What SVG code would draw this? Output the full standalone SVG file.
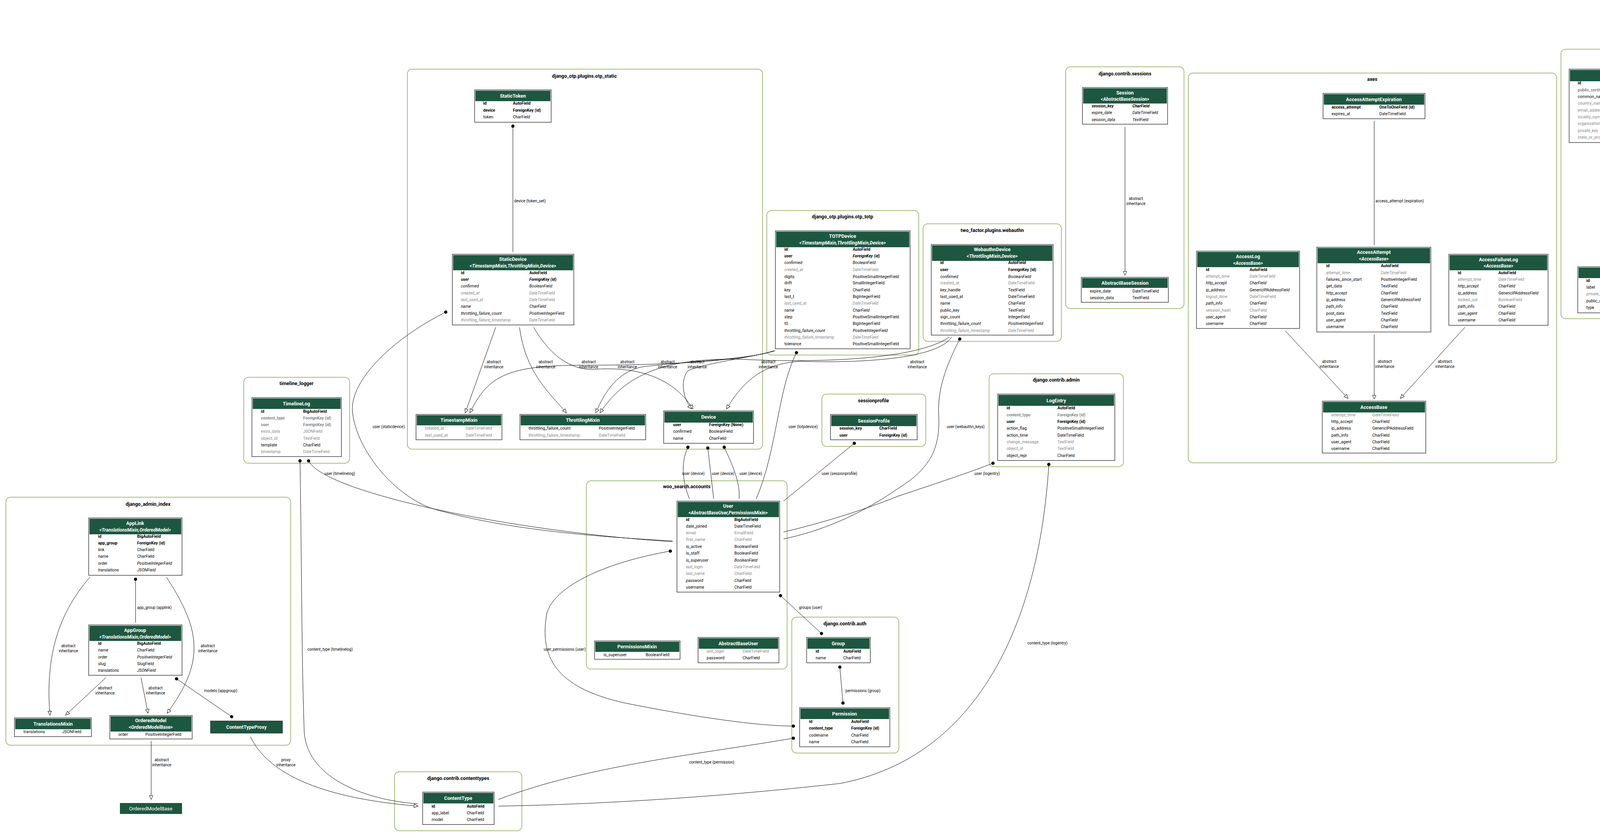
<svg xmlns="http://www.w3.org/2000/svg" width="7077" height="2143" viewBox="0 0 7077 2143">
<style>
text{font-family:Roboto,"Liberation Sans",sans-serif;font-size:10.5px;fill:#000}
.n{}
.b{font-weight:bold}
.i{font-style:italic}
.g{fill:#888}
.gi{fill:#888;font-style:italic}
.gb{fill:#888;font-weight:bold}
.bi{font-weight:bold;font-style:italic}
.t{font-size:12.5px;font-weight:bold;fill:#fff;text-anchor:middle}
.st{font-size:12px;font-weight:bold;font-style:italic;fill:#fff;text-anchor:middle}
.tn{font-size:13px;fill:#fff;text-anchor:middle}
.cl{font-size:12.5px;font-weight:bold;text-anchor:middle}
.lb{font-size:10px;text-anchor:middle}
.ls{font-size:10px}
.le{font-size:10px;text-anchor:end}
.box{fill:#fff;stroke:#222;stroke-width:1.3}
.hd{fill:#1d5740}
.clu{fill:none;stroke:#8ca953;stroke-width:1.5}
.e{fill:none;stroke:#000;stroke-width:1}
.inh{marker-end:url(#tri)}
.ds{marker-start:url(#dot)}
.dd{marker-start:url(#dot);marker-end:url(#dot)}
</style>
<defs>
<marker id="tri" viewBox="0 0 12 10" refX="11" refY="5" markerWidth="12" markerHeight="10" markerUnits="userSpaceOnUse" orient="auto"><path d="M1,0.5 L11,5 L1,9.5 Z" fill="#fff" stroke="#000" stroke-width="1"/></marker>
<marker id="dot" viewBox="0 0 10 10" refX="5" refY="5" markerWidth="9" markerHeight="9" markerUnits="userSpaceOnUse" orient="auto"><circle cx="5" cy="5" r="4.5" fill="#000"/></marker>
</defs>
<rect width="7077" height="2143" fill="#fff"/>

<g id="clusters">
<rect class="clu" x="15" y="1273" width="729" height="635" rx="12"/><text class="cl" x="379" y="1295">django_admin_index</text>
<rect class="clu" x="1010" y="1976" width="326" height="151" rx="12"/><text class="cl" x="1173" y="1997">django.contrib.contenttypes</text>
<rect class="clu" x="624" y="966" width="271" height="220" rx="12"/><text class="cl" x="759" y="986">timeline_logger</text>
<rect class="clu" x="1043" y="177" width="909" height="973" rx="12"/><text class="cl" x="1496" y="199">django_otp.plugins.otp_static</text>
<rect class="clu" x="1963" y="539" width="389" height="370" rx="12"/><text class="cl" x="2157" y="559">django_otp.plugins.otp_totp</text>
<rect class="clu" x="2363" y="573" width="354" height="301" rx="12"/><text class="cl" x="2540" y="594">two_factor.plugins.webauthn</text>
<rect class="clu" x="2728" y="171" width="303" height="619" rx="12"/><text class="cl" x="2880" y="193">django.contrib.sessions</text>
<rect class="clu" x="2104" y="1009" width="266" height="134" rx="12"/><text class="cl" x="2236" y="1030">sessionprofile</text>
<rect class="clu" x="2532" y="957" width="344" height="238" rx="12"/><text class="cl" x="2704" y="977">django.contrib.admin</text>
<rect class="clu" x="1501" y="1231" width="514" height="482" rx="12"/><text class="cl" x="1758" y="1250">woo_search.accounts</text>
<rect class="clu" x="2027" y="1580" width="274" height="348" rx="12"/><text class="cl" x="2163" y="1601">django.contrib.auth</text>
<rect class="clu" x="3042" y="187" width="943" height="998" rx="12"/><text class="cl" x="3513" y="207">axes</text>
<rect class="clu" x="3996" y="126" width="344" height="690" rx="12"/><text class="cl" x="4168" y="147">simple_certmanager</text>
<rect class="clu" x="4351" y="16" width="883" height="766" rx="12"/><text class="cl" x="4792" y="36">zgw_consumers</text>
<rect class="clu" x="5245" y="57" width="653" height="392" rx="12"/><text class="cl" x="5571" y="77">log_outgoing_requests</text>
<rect class="clu" x="5909" y="91" width="575" height="785" rx="12"/><text class="cl" x="6196" y="112">mozilla_django_oidc_db</text>
<rect class="clu" x="6496" y="161" width="276" height="184" rx="12"/><text class="cl" x="6635" y="181">upgrade_check</text>
<rect class="clu" x="6785" y="135" width="276" height="237" rx="12"/><text class="cl" x="6922" y="155">woo_search.api</text>
</g>

<g id="connectors">
<path class="e ds" d="M347,1483 L347,1594"/><text class="ls" x="351" y="1559">app_group (applink)</text>
<path class="e inh" d="M230,1478 C150,1570 115,1680 128,1831"/><text class="lb" x="175" y="1657">abstract</text><text class="lb" x="175" y="1670">inheritance</text>
<path class="e inh" d="M426,1478 C520,1620 520,1700 428,1826"/><text class="lb" x="532" y="1657">abstract</text><text class="lb" x="532" y="1670">inheritance</text>
<path class="e inh" d="M271,1735 L168,1831"/><text class="lb" x="269" y="1765">abstract</text><text class="lb" x="269" y="1778">inheritance</text>
<path class="e inh" d="M361,1735 L379,1826"/><text class="lb" x="398" y="1765">abstract</text><text class="lb" x="398" y="1778">inheritance</text>
<path class="e dd" d="M452,1738 L593,1835"/><text class="lb" x="565" y="1772">models (appgroup)</text>
<path class="e inh" d="M387,1897 L387,2047"/><text class="lb" x="414" y="1949">abstract</text><text class="lb" x="414" y="1962">inheritance</text>
<path class="e inh" d="M641,1886 C700,2010 900,2050 1070,2064"/><text class="lb" x="732" y="1949">proxy</text><text class="lb" x="732" y="1962">inheritance</text>
<path class="e ds" d="M768,1180 C772,1400 772,1700 779,1877 C790,2000 950,2050 1070,2058"/><text class="lb" x="845" y="1666">content_type (timelinelog)</text>
<path class="e ds" d="M790,1180 C830,1260 1300,1360 1722,1387"/><text class="lb" x="870" y="1216">user (timelinelog)</text>
<path class="e ds" d="M1313,323 L1313,645"/><text class="ls" x="1316" y="518">device (token_set)</text>
<path class="e ds" d="M1141,799 C1000,870 890,980 903,1060 C915,1150 1000,1260 1100,1300 C1300,1360 1550,1375 1722,1385"/><text class="lb" x="995" y="1096">user (staticdevice)</text>
<path class="e inh" d="M1269,838 L1191,1057"/>
<path class="e inh" d="M1330,838 C1345,950 1400,1000 1450,1057"/>
<path class="e inh" d="M1366,838 C1420,930 1480,950 1530,945 C1620,940 1720,960 1774,1047"/>
<path class="e inh" d="M1981,898 C1900,925 1700,935 1500,935 C1300,935 1250,960 1203,1057"/>
<path class="e inh" d="M1981,898 C1930,920 1700,930 1640,940 C1580,955 1550,1000 1525,1057"/>
<path class="e inh" d="M1985,898 C1900,920 1800,930 1760,950 C1740,980 1750,1020 1770,1047"/>
<path class="e inh" d="M2430,863 C2350,920 2100,930 1900,920 C1700,915 1600,960 1536,1057"/>
<path class="e inh" d="M2436,863 C2400,920 2200,930 2050,925 C1950,930 1900,980 1860,1047"/>
<text class="lb" x="1264" y="930">abstract</text><text class="lb" x="1264" y="943">inheritance</text>
<text class="lb" x="1397" y="930">abstract</text><text class="lb" x="1397" y="943">inheritance</text>
<text class="lb" x="1507" y="930">abstract</text><text class="lb" x="1507" y="943">inheritance</text>
<text class="lb" x="1606" y="930">abstract</text><text class="lb" x="1606" y="943">inheritance</text>
<text class="lb" x="1709" y="930">abstract</text><text class="lb" x="1709" y="943">inheritance</text>
<text class="lb" x="1785" y="930">abstract</text><text class="lb" x="1785" y="943">inheritance</text>
<text class="lb" x="1967" y="930">abstract</text><text class="lb" x="1967" y="943">inheritance</text>
<text class="lb" x="2348" y="930">abstract</text><text class="lb" x="2348" y="943">inheritance</text>
<path class="e ds" d="M1761,1145 C1740,1190 1750,1240 1765,1277"/><text class="lb" x="1775" y="1216">user (device)</text>
<path class="e ds" d="M1812,1147 L1827,1277"/><text class="lb" x="1851" y="1216">user (device)</text>
<path class="e ds" d="M1854,1145 C1880,1200 1895,1240 1892,1277"/><text class="lb" x="1922" y="1216">user (device)</text>
<path class="e ds" d="M2039,903 C1990,1000 1990,1150 1936,1277"/><text class="lb" x="2056" y="1096">user (totpdevice)</text>
<path class="e ds" d="M2457,868 C2420,940 2400,1000 2403,1060 C2408,1150 2380,1200 2300,1250 C2200,1320 2100,1360 2006,1380"/><text class="lb" x="2472" y="1096">user (webauthn_keys)</text>
<path class="e ds" d="M2542,1186 C2480,1210 2420,1230 2300,1270 C2200,1310 2100,1340 2006,1362"/><text class="lb" x="2527" y="1216">user (logentry)</text>
<path class="e ds" d="M2187,1135 L2006,1283"/><text class="lb" x="2149" y="1216">user (sessionprofile)</text>
<path class="e dd" d="M1998,1525 L2103,1622"/><text class="lb" x="2075" y="1559">groups (user)</text>
<path class="e dd" d="M2150,1708 L2158,1800"/><text class="lb" x="2209" y="1772">permissions (group)</text>
<path class="e dd" d="M1716,1411 C1550,1440 1420,1500 1400,1570 C1380,1680 1420,1760 1600,1800 C1800,1840 1950,1859 2031,1859"/><text class="le" x="1499" y="1666">user_permissions (user)</text>
<path class="e ds" d="M2031,1890 C1800,1930 1500,1960 1276,2047"/><text class="lb" x="1822" y="1955">content_type (permission)</text>
<path class="e ds" d="M2685,1189 C2660,1600 2500,1940 2150,2006 C1800,2045 1500,2060 1276,2064"/><text class="ls" x="2630" y="1650">content_type (logentry)</text>
<path class="e inh" d="M2880,325 L2880,705"/><text class="lb" x="2908" y="512">abstract</text><text class="lb" x="2908" y="525">inheritance</text>
<path class="e" d="M3518,310 L3518,628"/><text class="ls" x="3521" y="518">access_attempt (expiration)</text>
<path class="e inh" d="M3290,847 L3451,1020"/><text class="lb" x="3403" y="929">abstract</text><text class="lb" x="3403" y="942">inheritance</text>
<path class="e inh" d="M3518,856 L3518,1022"/><text class="lb" x="3545" y="929">abstract</text><text class="lb" x="3545" y="942">inheritance</text>
<path class="e inh" d="M3750,838 L3585,1020"/><text class="lb" x="3699" y="929">abstract</text><text class="lb" x="3699" y="942">inheritance</text>
<path class="e ds" d="M4167,371 L4175,677"/><text class="ls" x="4171" y="518">public_certificate (signing_request)</text>
<path class="e inh" d="M4432,296 C4380,450 4300,560 4235,677"/><text class="lb" x="4368" y="512">proxy</text><text class="lb" x="4368" y="525">inheritance</text>
<path class="e ds" d="M4539,474 C4500,500 4460,490 4440,505 C4390,535 4380,535 4350,535 C4280,560 4240,620 4212,677"/><text class="lb" x="4530" y="518">client_certificate (service_client)</text>
<path class="e ds" d="M4645,485 C4630,520 4620,535 4580,535 C4450,538 4370,530 4340,540 C4290,570 4240,620 4215,677"/><text class="lb" x="4717" y="518">server_certificate (service_server)</text>
<path class="e inh" d="M4809,480 C4830,560 4840,620 4841,712"/><text class="lb" x="4846" y="512">abstract</text><text class="lb" x="4846" y="525">inheritance</text>
<path class="e inh" d="M5085,342 L5113,719"/><text class="lb" x="5127" y="512">abstract</text><text class="lb" x="5127" y="525">inheritance</text>
<path class="e inh" d="M5366,342 L5136,719"/><text class="lb" x="5291" y="512">abstract</text><text class="lb" x="5291" y="525">inheritance</text>
<path class="e ds" d="M6080,411 L6092,617"/><text class="ls" x="6083" y="518">oidc_provider (oidcclient)</text>
</g>

<g id="AppLink"><rect class="box" x="227" y="1326" width="239" height="147"/><rect class="hd" x="229" y="1328" width="235" height="40"/><text class="t" x="346" y="1344">AppLink</text><text class="st" x="346" y="1361">&lt;TranslationsMixin,OrderedModel&gt;</text>
<text class="b" y="1377"><tspan x="251">id</tspan><tspan x="351">BigAutoField</tspan></text>
<text class="b" y="1394"><tspan x="251">app_group</tspan><tspan x="351">ForeignKey (id)</tspan></text>
<text y="1411"><tspan x="251">link</tspan><tspan x="351">CharField</tspan></text>
<text y="1428"><tspan x="251">name</tspan><tspan x="351">CharField</tspan></text>
<text class="i" y="1446"><tspan x="251">order</tspan><tspan x="351">PositiveIntegerField</tspan></text>
<text class="i" y="1463"><tspan x="251">translations</tspan><tspan x="351">JSONField</tspan></text></g>

<g id="AppGroup"><rect class="box" x="227" y="1600" width="239" height="129"/><rect class="hd" x="229" y="1602" width="235" height="39"/><text class="t" x="346" y="1618">AppGroup</text><text class="st" x="346" y="1635">&lt;TranslationsMixin,OrderedModel&gt;</text>
<text class="b" y="1651"><tspan x="251">id</tspan><tspan x="351">BigAutoField</tspan></text>
<text y="1668"><tspan x="251">name</tspan><tspan x="351">CharField</tspan></text>
<text class="i" y="1686"><tspan x="251">order</tspan><tspan x="351">PositiveIntegerField</tspan></text>
<text y="1703"><tspan x="251">slug</tspan><tspan x="351">SlugField</tspan></text>
<text class="i" y="1720"><tspan x="251">translations</tspan><tspan x="351">JSONField</tspan></text></g>

<g id="TranslationsMixin"><rect class="box" x="37" y="1838" width="197" height="48"/><rect class="hd" x="39" y="1840" width="193" height="27"/><text class="t" x="136" y="1858">TranslationsMixin</text>
<text y="1877"><tspan x="60">translations</tspan><tspan x="159">JSONField</tspan></text></g>

<g id="OrderedModel"><rect class="box" x="281" y="1832" width="211" height="60"/><rect class="hd" x="283" y="1834" width="207" height="39"/><text class="t" x="386" y="1849">OrderedModel</text><text class="st" x="386" y="1866">&lt;OrderedModelBase&gt;</text>
<text y="1884"><tspan x="303">order</tspan><tspan x="372">PositiveIntegerField</tspan></text></g>

<g id="ContentTypeProxy"><rect class="hd" x="539" y="1846" width="184" height="31" stroke="#222" stroke-width="1.3"/><text class="t" x="631" y="1866">ContentTypeProxy</text></g>
<g id="OrderedModelBase"><rect class="hd" x="307" y="2056" width="159" height="28"/><text class="tn" x="386" y="2075">OrderedModelBase</text></g>

<g id="ContentType"><rect class="box" x="1082" y="2028" width="183" height="83"/><rect class="hd" x="1084" y="2030" width="179" height="27"/><text class="t" x="1173" y="2048">ContentType</text>
<text class="b" y="2068"><tspan x="1105">id</tspan><tspan x="1195">AutoField</tspan></text>
<text y="2085"><tspan x="1105">app_label</tspan><tspan x="1195">CharField</tspan></text>
<text y="2102"><tspan x="1105">model</tspan><tspan x="1195">CharField</tspan></text></g>

<g id="TimelineLog"><rect class="box" x="645" y="1018" width="229" height="151"/><rect class="hd" x="647" y="1020" width="225" height="27"/><text class="t" x="759" y="1038">TimelineLog</text>
<text class="b" y="1057"><tspan x="668">id</tspan><tspan x="776">BigAutoField</tspan></text>
<text class="gb" y="1074"><tspan x="668">content_type</tspan><tspan x="776">ForeignKey (id)</tspan></text>
<text class="gb" y="1091"><tspan x="668">user</tspan><tspan x="776">ForeignKey (id)</tspan></text>
<text class="g" y="1108"><tspan x="668">extra_data</tspan><tspan x="776">JSONField</tspan></text>
<text class="g" y="1126"><tspan x="668">object_id</tspan><tspan x="776">TextField</tspan></text>
<text y="1143"><tspan x="668">template</tspan><tspan x="776">CharField</tspan></text>
<text class="g" y="1160"><tspan x="668">timestamp</tspan><tspan x="776">DateTimeField</tspan></text></g>

<g id="StaticToken"><rect class="box" x="1215" y="230" width="196" height="83"/><rect class="hd" x="1217" y="232" width="192" height="27"/><text class="t" x="1313" y="250">StaticToken</text>
<text class="b" y="268"><tspan x="1237">id</tspan><tspan x="1313">AutoField</tspan></text>
<text class="b" y="286"><tspan x="1237">device</tspan><tspan x="1313">ForeignKey (id)</tspan></text>
<text y="303"><tspan x="1237">token</tspan><tspan x="1313">CharField</tspan></text></g>

<g id="StaticDevice"><rect class="box" x="1158" y="651" width="311" height="181"/><rect class="hd" x="1160" y="653" width="307" height="39"/><text class="t" x="1313" y="668">StaticDevice</text><text class="st" x="1313" y="685">&lt;TimestampMixin,ThrottlingMixin,Device&gt;</text>
<text class="b" y="702"><tspan x="1180">id</tspan><tspan x="1355">AutoField</tspan></text>
<text class="bi" y="719"><tspan x="1180">user</tspan><tspan x="1355">ForeignKey (id)</tspan></text>
<text class="i" y="736"><tspan x="1180">confirmed</tspan><tspan x="1355">BooleanField</tspan></text>
<text class="gi" y="754"><tspan x="1180">created_at</tspan><tspan x="1355">DateTimeField</tspan></text>
<text class="gi" y="771"><tspan x="1180">last_used_at</tspan><tspan x="1355">DateTimeField</tspan></text>
<text class="i" y="788"><tspan x="1180">name</tspan><tspan x="1355">CharField</tspan></text>
<text class="i" y="806"><tspan x="1180">throttling_failure_count</tspan><tspan x="1355">PositiveIntegerField</tspan></text>
<text class="gi" y="823"><tspan x="1180">throttling_failure_timestamp</tspan><tspan x="1355">DateTimeField</tspan></text></g>

<g id="TimestampMixin"><rect class="box" x="1065" y="1061" width="220" height="65"/><rect class="hd" x="1067" y="1063" width="216" height="26"/><text class="t" x="1175" y="1080">TimestampMixin</text>
<text class="g" y="1100"><tspan x="1088">created_at</tspan><tspan x="1192">DateTimeField</tspan></text>
<text class="g" y="1118"><tspan x="1088">last_used_at</tspan><tspan x="1192">DateTimeField</tspan></text></g>

<g id="ThrottlingMixin"><rect class="box" x="1331" y="1061" width="322" height="65"/><rect class="hd" x="1333" y="1063" width="318" height="26"/><text class="t" x="1492" y="1080">ThrottlingMixin</text>
<text y="1100"><tspan x="1353">throttling_failure_count</tspan><tspan x="1533">PositiveIntegerField</tspan></text>
<text class="g" y="1118"><tspan x="1353">throttling_failure_timestamp</tspan><tspan x="1533">DateTimeField</tspan></text></g>

<g id="Device"><rect class="box" x="1699" y="1052" width="230" height="83"/><rect class="hd" x="1701" y="1054" width="226" height="28"/><text class="t" x="1814" y="1072">Device</text>
<text class="b" y="1091"><tspan x="1723">user</tspan><tspan x="1815">ForeignKey (None)</tspan></text>
<text y="1108"><tspan x="1723">confirmed</tspan><tspan x="1815">BooleanField</tspan></text>
<text y="1126"><tspan x="1723">name</tspan><tspan x="1815">CharField</tspan></text></g>

<g id="TOTPDevice"><rect class="box" x="1985" y="591" width="345" height="302"/><rect class="hd" x="1987" y="593" width="341" height="40"/><text class="t" x="2157" y="609">TOTPDevice</text><text class="st" x="2157" y="626">&lt;TimestampMixin,ThrottlingMixin,Device&gt;</text>
<text class="b" y="642"><tspan x="2008">id</tspan><tspan x="2183">AutoField</tspan></text>
<text class="bi" y="659"><tspan x="2008">user</tspan><tspan x="2183">ForeignKey (id)</tspan></text>
<text class="i" y="676"><tspan x="2008">confirmed</tspan><tspan x="2183">BooleanField</tspan></text>
<text class="gi" y="694"><tspan x="2008">created_at</tspan><tspan x="2183">DateTimeField</tspan></text>
<text y="712"><tspan x="2008">digits</tspan><tspan x="2183">PositiveSmallIntegerField</tspan></text>
<text y="728"><tspan x="2008">drift</tspan><tspan x="2183">SmallIntegerField</tspan></text>
<text y="746"><tspan x="2008">key</tspan><tspan x="2183">CharField</tspan></text>
<text y="763"><tspan x="2008">last_t</tspan><tspan x="2183">BigIntegerField</tspan></text>
<text class="gi" y="780"><tspan x="2008">last_used_at</tspan><tspan x="2183">DateTimeField</tspan></text>
<text class="i" y="798"><tspan x="2008">name</tspan><tspan x="2183">CharField</tspan></text>
<text y="815"><tspan x="2008">step</tspan><tspan x="2183">PositiveSmallIntegerField</tspan></text>
<text y="832"><tspan x="2008">t0</tspan><tspan x="2183">BigIntegerField</tspan></text>
<text class="i" y="850"><tspan x="2008">throttling_failure_count</tspan><tspan x="2183">PositiveIntegerField</tspan></text>
<text class="gi" y="867"><tspan x="2008">throttling_failure_timestamp</tspan><tspan x="2183">DateTimeField</tspan></text>
<text y="884"><tspan x="2008">tolerance</tspan><tspan x="2183">PositiveSmallIntegerField</tspan></text></g>

<g id="WebauthnDevice"><rect class="box" x="2384" y="626" width="312" height="232"/><rect class="hd" x="2386" y="628" width="308" height="40"/><text class="t" x="2540" y="643">WebauthnDevice</text><text class="st" x="2540" y="660">&lt;ThrottlingMixin,Device&gt;</text>
<text class="b" y="676"><tspan x="2407">id</tspan><tspan x="2581">AutoField</tspan></text>
<text class="b" y="694"><tspan x="2407">user</tspan><tspan x="2581">ForeignKey (id)</tspan></text>
<text class="i" y="712"><tspan x="2407">confirmed</tspan><tspan x="2581">BooleanField</tspan></text>
<text class="g" y="728"><tspan x="2407">created_at</tspan><tspan x="2581">DateTimeField</tspan></text>
<text y="746"><tspan x="2407">key_handle</tspan><tspan x="2581">TextField</tspan></text>
<text y="763"><tspan x="2407">last_used_at</tspan><tspan x="2581">DateTimeField</tspan></text>
<text class="i" y="780"><tspan x="2407">name</tspan><tspan x="2581">CharField</tspan></text>
<text y="798"><tspan x="2407">public_key</tspan><tspan x="2581">TextField</tspan></text>
<text y="815"><tspan x="2407">sign_count</tspan><tspan x="2581">IntegerField</tspan></text>
<text class="i" y="832"><tspan x="2407">throttling_failure_count</tspan><tspan x="2581">PositiveIntegerField</tspan></text>
<text class="gi" y="850"><tspan x="2407">throttling_failure_timestamp</tspan><tspan x="2581">DateTimeField</tspan></text></g>

<g id="Session"><rect class="box" x="2771" y="224" width="218" height="94"/><rect class="hd" x="2773" y="226" width="214" height="39"/><text class="t" x="2880" y="242">Session</text><text class="st" x="2880" y="258">&lt;AbstractBaseSession&gt;</text>
<text class="bi" y="275"><tspan x="2795">session_key</tspan><tspan x="2899">CharField</tspan></text>
<text class="i" y="292"><tspan x="2795">expire_date</tspan><tspan x="2899">DateTimeField</tspan></text>
<text class="i" y="310"><tspan x="2795">session_data</tspan><tspan x="2899">TextField</tspan></text></g>

<g id="AbstractBaseSession"><rect class="box" x="2768" y="710" width="223" height="64"/><rect class="hd" x="2770" y="712" width="219" height="25"/><text class="t" x="2880" y="729">AbstractBaseSession</text>
<text y="749"><tspan x="2790">expire_date</tspan><tspan x="2899">DateTimeField</tspan></text>
<text y="766"><tspan x="2790">session_data</tspan><tspan x="2899">TextField</tspan></text></g>

<g id="SessionProfile"><rect class="box" x="2126" y="1061" width="222" height="65"/><rect class="hd" x="2128" y="1063" width="218" height="28"/><text class="t" x="2237" y="1082">SessionProfile</text>
<text class="b" y="1100"><tspan x="2149">session_key</tspan><tspan x="2251">CharField</tspan></text>
<text class="b" y="1118"><tspan x="2149">user</tspan><tspan x="2251">ForeignKey (id)</tspan></text></g>

<g id="LogEntry"><rect class="box" x="2554" y="1009" width="300" height="170"/><rect class="hd" x="2556" y="1011" width="296" height="28"/><text class="t" x="2704" y="1030">LogEntry</text>
<text class="b" y="1048"><tspan x="2577">id</tspan><tspan x="2707">AutoField</tspan></text>
<text class="gb" y="1066"><tspan x="2577">content_type</tspan><tspan x="2707">ForeignKey (id)</tspan></text>
<text class="b" y="1083"><tspan x="2577">user</tspan><tspan x="2707">ForeignKey (id)</tspan></text>
<text y="1100"><tspan x="2577">action_flag</tspan><tspan x="2707">PositiveSmallIntegerField</tspan></text>
<text y="1118"><tspan x="2577">action_time</tspan><tspan x="2707">DateTimeField</tspan></text>
<text class="g" y="1135"><tspan x="2577">change_message</tspan><tspan x="2707">TextField</tspan></text>
<text class="g" y="1152"><tspan x="2577">object_id</tspan><tspan x="2707">TextField</tspan></text>
<text y="1170"><tspan x="2577">object_repr</tspan><tspan x="2707">CharField</tspan></text></g>

<g id="User"><rect class="box" x="1733" y="1283" width="263" height="233"/><rect class="hd" x="1735" y="1285" width="259" height="39"/><text class="t" x="1864" y="1300">User</text><text class="st" x="1864" y="1317">&lt;AbstractBaseUser,PermissionsMixin&gt;</text>
<text class="b" y="1334"><tspan x="1756">id</tspan><tspan x="1880">BigAutoField</tspan></text>
<text y="1351"><tspan x="1756">date_joined</tspan><tspan x="1880">DateTimeField</tspan></text>
<text class="g" y="1368"><tspan x="1756">email</tspan><tspan x="1880">EmailField</tspan></text>
<text class="g" y="1385"><tspan x="1756">first_name</tspan><tspan x="1880">CharField</tspan></text>
<text y="1403"><tspan x="1756">is_active</tspan><tspan x="1880">BooleanField</tspan></text>
<text y="1420"><tspan x="1756">is_staff</tspan><tspan x="1880">BooleanField</tspan></text>
<text class="i" y="1438"><tspan x="1756">is_superuser</tspan><tspan x="1880">BooleanField</tspan></text>
<text class="gi" y="1455"><tspan x="1756">last_login</tspan><tspan x="1880">DateTimeField</tspan></text>
<text class="g" y="1472"><tspan x="1756">last_name</tspan><tspan x="1880">CharField</tspan></text>
<text class="i" y="1490"><tspan x="1756">password</tspan><tspan x="1880">CharField</tspan></text>
<text y="1507"><tspan x="1756">username</tspan><tspan x="1880">CharField</tspan></text></g>

<g id="PermissionsMixin"><rect class="box" x="1522" y="1641" width="219" height="47"/><rect class="hd" x="1524" y="1643" width="215" height="26"/><text class="t" x="1631" y="1660">PermissionsMixin</text>
<text y="1680"><tspan x="1545">is_superuser</tspan><tspan x="1653">BooleanField</tspan></text></g>

<g id="AbstractBaseUser"><rect class="box" x="1787" y="1632" width="207" height="65"/><rect class="hd" x="1789" y="1634" width="203" height="27"/><text class="t" x="1890" y="1652">AbstractBaseUser</text>
<text class="g" y="1671"><tspan x="1809">last_login</tspan><tspan x="1901">DateTimeField</tspan></text>
<text y="1688"><tspan x="1809">password</tspan><tspan x="1901">CharField</tspan></text></g>

<g id="Group"><rect class="box" x="2065" y="1632" width="163" height="65"/><rect class="hd" x="2067" y="1634" width="159" height="27"/><text class="t" x="2146" y="1652">Group</text>
<text class="b" y="1671"><tspan x="2088">id</tspan><tspan x="2159">AutoField</tspan></text>
<text y="1688"><tspan x="2088">name</tspan><tspan x="2159">CharField</tspan></text></g>

<g id="Permission"><rect class="box" x="2047" y="1812" width="231" height="100"/><rect class="hd" x="2049" y="1814" width="227" height="27"/><text class="t" x="2162" y="1832">Permission</text>
<text class="b" y="1851"><tspan x="2071">id</tspan><tspan x="2179">AutoField</tspan></text>
<text class="b" y="1868"><tspan x="2071">content_type</tspan><tspan x="2179">ForeignKey (id)</tspan></text>
<text y="1886"><tspan x="2071">codename</tspan><tspan x="2179">CharField</tspan></text>
<text y="1903"><tspan x="2071">name</tspan><tspan x="2179">CharField</tspan></text></g>

<g id="AccessAttemptExpiration"><rect class="box" x="3387" y="239" width="261" height="65"/><rect class="hd" x="3389" y="241" width="257" height="27"/><text class="t" x="3517" y="259">AccessAttemptExpiration</text>
<text class="b" y="278"><tspan x="3409">access_attempt</tspan><tspan x="3531">OneToOneField (id)</tspan></text>
<text y="295"><tspan x="3409">expires_at</tspan><tspan x="3531">DateTimeField</tspan></text></g>

<g id="AccessLog"><rect class="box" x="3063" y="643" width="264" height="198"/><rect class="hd" x="3065" y="645" width="260" height="39"/><text class="t" x="3195" y="661">AccessLog</text><text class="st" x="3195" y="678">&lt;AccessBase&gt;</text>
<text class="b" y="694"><tspan x="3087">id</tspan><tspan x="3199">AutoField</tspan></text>
<text class="gi" y="711"><tspan x="3087">attempt_time</tspan><tspan x="3199">DateTimeField</tspan></text>
<text class="i" y="728"><tspan x="3087">http_accept</tspan><tspan x="3199">CharField</tspan></text>
<text class="i" y="746"><tspan x="3087">ip_address</tspan><tspan x="3199">GenericIPAddressField</tspan></text>
<text class="g" y="763"><tspan x="3087">logout_time</tspan><tspan x="3199">DateTimeField</tspan></text>
<text class="i" y="780"><tspan x="3087">path_info</tspan><tspan x="3199">CharField</tspan></text>
<text class="g" y="798"><tspan x="3087">session_hash</tspan><tspan x="3199">CharField</tspan></text>
<text class="i" y="815"><tspan x="3087">user_agent</tspan><tspan x="3199">CharField</tspan></text>
<text class="i" y="832"><tspan x="3087">username</tspan><tspan x="3199">CharField</tspan></text></g>

<g id="AccessAttempt"><rect class="box" x="3371" y="633" width="292" height="217"/><rect class="hd" x="3373" y="635" width="288" height="39"/><text class="t" x="3517" y="650">AccessAttempt</text><text class="st" x="3517" y="667">&lt;AccessBase&gt;</text>
<text class="b" y="684"><tspan x="3395">id</tspan><tspan x="3535">AutoField</tspan></text>
<text class="gi" y="702"><tspan x="3395">attempt_time</tspan><tspan x="3535">DateTimeField</tspan></text>
<text y="719"><tspan x="3395">failures_since_start</tspan><tspan x="3535">PositiveIntegerField</tspan></text>
<text y="736"><tspan x="3395">get_data</tspan><tspan x="3535">TextField</tspan></text>
<text class="i" y="754"><tspan x="3395">http_accept</tspan><tspan x="3535">CharField</tspan></text>
<text class="i" y="771"><tspan x="3395">ip_address</tspan><tspan x="3535">GenericIPAddressField</tspan></text>
<text class="i" y="788"><tspan x="3395">path_info</tspan><tspan x="3535">CharField</tspan></text>
<text y="806"><tspan x="3395">post_data</tspan><tspan x="3535">TextField</tspan></text>
<text class="i" y="823"><tspan x="3395">user_agent</tspan><tspan x="3535">CharField</tspan></text>
<text class="i" y="840"><tspan x="3395">username</tspan><tspan x="3535">CharField</tspan></text></g>

<g id="AccessFailureLog"><rect class="box" x="3709" y="651" width="254" height="182"/><rect class="hd" x="3711" y="653" width="250" height="39"/><text class="t" x="3836" y="669">AccessFailureLog</text><text class="st" x="3836" y="685">&lt;AccessBase&gt;</text>
<text class="b" y="702"><tspan x="3732">id</tspan><tspan x="3836">AutoField</tspan></text>
<text class="gi" y="719"><tspan x="3732">attempt_time</tspan><tspan x="3836">DateTimeField</tspan></text>
<text class="i" y="736"><tspan x="3732">http_accept</tspan><tspan x="3836">CharField</tspan></text>
<text class="i" y="754"><tspan x="3732">ip_address</tspan><tspan x="3836">GenericIPAddressField</tspan></text>
<text class="g" y="771"><tspan x="3732">locked_out</tspan><tspan x="3836">BooleanField</tspan></text>
<text class="i" y="788"><tspan x="3732">path_info</tspan><tspan x="3836">CharField</tspan></text>
<text class="i" y="806"><tspan x="3732">user_agent</tspan><tspan x="3836">CharField</tspan></text>
<text class="i" y="823"><tspan x="3732">username</tspan><tspan x="3836">CharField</tspan></text></g>

<g id="AccessBase"><rect class="box" x="3385" y="1027" width="265" height="133"/><rect class="hd" x="3387" y="1029" width="261" height="27"/><text class="t" x="3517" y="1047">AccessBase</text>
<text class="g" y="1066"><tspan x="3408">attempt_time</tspan><tspan x="3513">DateTimeField</tspan></text>
<text y="1083"><tspan x="3408">http_accept</tspan><tspan x="3513">CharField</tspan></text>
<text y="1100"><tspan x="3408">ip_address</tspan><tspan x="3513">GenericIPAddressField</tspan></text>
<text y="1118"><tspan x="3408">path_info</tspan><tspan x="3513">CharField</tspan></text>
<text y="1135"><tspan x="3408">user_agent</tspan><tspan x="3513">CharField</tspan></text>
<text y="1152"><tspan x="3408">username</tspan><tspan x="3513">CharField</tspan></text></g>

<g id="SigningRequest"><rect class="box" x="4017" y="177" width="302" height="188"/><rect class="hd" x="4019" y="179" width="298" height="29"/><text class="t" x="4168" y="198">SigningRequest</text>
<text class="b" y="216"><tspan x="4039">id</tspan><tspan x="4201">AutoField</tspan></text>
<text class="gb" y="234"><tspan x="4039">public_certificate</tspan><tspan x="4201">OneToOneField (id)</tspan></text>
<text y="251"><tspan x="4039">common_name</tspan><tspan x="4201">CharField</tspan></text>
<text class="g" y="268"><tspan x="4039">country_name</tspan><tspan x="4201">CharField</tspan></text>
<text class="g" y="286"><tspan x="4039">email_address</tspan><tspan x="4201">EmailField</tspan></text>
<text class="g" y="303"><tspan x="4039">locality_name</tspan><tspan x="4201">CharField</tspan></text>
<text class="g" y="320"><tspan x="4039">organization_name</tspan><tspan x="4201">CharField</tspan></text>
<text class="g" y="338"><tspan x="4039">private_key</tspan><tspan x="4201">TextField</tspan></text>
<text class="g" y="355"><tspan x="4039">state_or_province_name</tspan><tspan x="4201">CharField</tspan></text></g>

<g id="Certificate"><rect class="box" x="4039" y="683" width="280" height="118"/><rect class="hd" x="4041" y="685" width="276" height="27"/><text class="t" x="4179" y="703">Certificate</text>
<text class="b" y="722"><tspan x="4061">id</tspan><tspan x="4189">AutoField</tspan></text>
<text y="739"><tspan x="4061">label</tspan><tspan x="4189">CharField</tspan></text>
<text class="g" y="756"><tspan x="4061">private_key</tspan><tspan x="4189">PrivateMediaFileField</tspan></text>
<text y="774"><tspan x="4061">public_certificate</tspan><tspan x="4189">PrivateMediaFileField</tspan></text>
<text y="791"><tspan x="4061">type</tspan><tspan x="4189">CharField</tspan></text></g>

<g id="CertificateProxy"><rect class="hd" x="4372" y="256" width="136" height="31" stroke="#222" stroke-width="1.3"/><text class="t" x="4440" y="276">Certificate</text></g>

<g id="Service"><rect class="box" x="4553" y="68" width="349" height="406"/><rect class="hd" x="4555" y="70" width="345" height="39"/><text class="t" x="4727" y="85">Service</text><text class="st" x="4727" y="102">&lt;Service&gt;</text>
<text class="b" y="120"><tspan x="4578">id</tspan><tspan x="4755">AutoField</tspan></text>
<text class="gb" y="137"><tspan x="4578">client_certificate</tspan><tspan x="4755">ForeignKey (id)</tspan></text>
<text class="gb" y="154"><tspan x="4578">server_certificate</tspan><tspan x="4755">ForeignKey (id)</tspan></text>
<text class="g" y="172"><tspan x="4578">api_connection_check_path</tspan><tspan x="4755">CharField</tspan></text>
<text y="189"><tspan x="4578">api_root</tspan><tspan x="4755">CharField</tspan></text>
<text y="206"><tspan x="4578">api_type</tspan><tspan x="4755">CharField</tspan></text>
<text y="224"><tspan x="4578">auth_type</tspan><tspan x="4755">CharField</tspan></text>
<text class="g" y="241"><tspan x="4578">client_id</tspan><tspan x="4755">CharField</tspan></text>
<text class="g" y="258"><tspan x="4578">header_key</tspan><tspan x="4755">CharField</tspan></text>
<text class="g" y="276"><tspan x="4578">header_value</tspan><tspan x="4755">CharField</tspan></text>
<text y="293"><tspan x="4578">jwt_valid_for</tspan><tspan x="4755">PositiveIntegerField</tspan></text>
<text class="i" y="310"><tspan x="4578">label</tspan><tspan x="4755">CharField</tspan></text>
<text class="g" y="328"><tspan x="4578">nlx</tspan><tspan x="4755">URLField</tspan></text>
<text class="g" y="345"><tspan x="4578">oauth2_scope</tspan><tspan x="4755">CharField</tspan></text>
<text class="g" y="362"><tspan x="4578">oauth2_token_url</tspan><tspan x="4755">URLField</tspan></text>
<text class="g" y="380"><tspan x="4578">secret</tspan><tspan x="4755">CharField</tspan></text>
<text y="397"><tspan x="4578">slug</tspan><tspan x="4755">SlugField</tspan></text>
<text y="414"><tspan x="4578">timeout</tspan><tspan x="4755">PositiveSmallIntegerField</tspan></text>
<text class="g" y="432"><tspan x="4578">user_id</tspan><tspan x="4755">CharField</tspan></text>
<text class="g" y="449"><tspan x="4578">user_representation</tspan><tspan x="4755">CharField</tspan></text>
<text y="466"><tspan x="4578">uuid</tspan><tspan x="4755">UUIDField</tspan></text></g>

<g id="ServiceBase"><rect class="box" x="4764" y="718" width="161" height="48"/><rect class="hd" x="4766" y="720" width="157" height="27"/><text class="t" x="4844" y="738">Service</text>
<text y="757"><tspan x="4799">label</tspan><tspan x="4878">CharField</tspan></text></g>

<g id="NLXConfig"><rect class="box" x="4948" y="207" width="265" height="129"/><rect class="hd" x="4950" y="209" width="261" height="39"/><text class="t" x="5080" y="225">NLXConfig</text><text class="st" x="5080" y="241">&lt;SingletonModel&gt;</text>
<text class="b" y="258"><tspan x="4970">id</tspan><tspan x="5084">AutoField</tspan></text>
<text class="g" y="275"><tspan x="4970">certificate</tspan><tspan x="5084">PrivateMediaFileField</tspan></text>
<text class="g" y="292"><tspan x="4970">certificate_key</tspan><tspan x="5084">PrivateMediaFileField</tspan></text>
<text class="g" y="310"><tspan x="4970">directory</tspan><tspan x="5084">CharField</tspan></text>
<text class="g" y="327"><tspan x="4970">outway</tspan><tspan x="5084">URLField</tspan></text></g>

<g id="SingletonModel"><rect class="hd" x="5031" y="727" width="169" height="31" stroke="#222" stroke-width="1.3"/><text class="t" x="5115" y="747">SingletonModel</text></g>

<g id="OutgoingRequestsLogConfig"><rect class="box" x="5268" y="207" width="283" height="129"/><rect class="hd" x="5270" y="209" width="279" height="39"/><text class="t" x="5409" y="225">OutgoingRequestsLogConfig</text><text class="st" x="5409" y="241">&lt;SingletonModel&gt;</text>
<text class="b" y="258"><tspan x="5291">id</tspan><tspan x="5433">BigAutoField</tspan></text>
<text y="275"><tspan x="5291">max_content_length</tspan><tspan x="5433">IntegerField</tspan></text>
<text class="g" y="292"><tspan x="5291">reset_db_save_after</tspan><tspan x="5433">PositiveIntegerField</tspan></text>
<text y="310"><tspan x="5291">save_body</tspan><tspan x="5433">CharField</tspan></text>
<text y="327"><tspan x="5291">save_to_db</tspan><tspan x="5433">CharField</tspan></text></g>

<g id="OutgoingRequestsLog"><rect class="box" x="5598" y="109" width="280" height="324"/><rect class="hd" x="5600" y="111" width="276" height="27"/><text class="t" x="5738" y="129">OutgoingRequestsLog</text>
<text class="b" y="147"><tspan x="5620">id</tspan><tspan x="5757">BigAutoField</tspan></text>
<text y="164"><tspan x="5620">hostname</tspan><tspan x="5757">CharField</tspan></text>
<text class="g" y="182"><tspan x="5620">method</tspan><tspan x="5757">CharField</tspan></text>
<text class="g" y="199"><tspan x="5620">params</tspan><tspan x="5757">TextField</tspan></text>
<text y="216"><tspan x="5620">req_body</tspan><tspan x="5757">BinaryField</tspan></text>
<text class="g" y="234"><tspan x="5620">req_body_encoding</tspan><tspan x="5757">CharField</tspan></text>
<text y="251"><tspan x="5620">req_content_type</tspan><tspan x="5757">CharField</tspan></text>
<text y="268"><tspan x="5620">req_headers</tspan><tspan x="5757">TextField</tspan></text>
<text y="286"><tspan x="5620">res_body</tspan><tspan x="5757">BinaryField</tspan></text>
<text class="g" y="303"><tspan x="5620">res_body_encoding</tspan><tspan x="5757">CharField</tspan></text>
<text y="321"><tspan x="5620">res_content_type</tspan><tspan x="5757">CharField</tspan></text>
<text y="338"><tspan x="5620">res_headers</tspan><tspan x="5757">TextField</tspan></text>
<text y="355"><tspan x="5620">response_ms</tspan><tspan x="5757">PositiveIntegerField</tspan></text>
<text class="g" y="372"><tspan x="5620">status_code</tspan><tspan x="5757">PositiveIntegerField</tspan></text>
<text y="390"><tspan x="5620">timestamp</tspan><tspan x="5757">DateTimeField</tspan></text>
<text y="407"><tspan x="5620">trace</tspan><tspan x="5757">TextField</tspan></text>
<text y="424"><tspan x="5620">url</tspan><tspan x="5757">TextField</tspan></text></g>

<g id="OIDCClient"><rect class="box" x="5931" y="143" width="282" height="256"/><rect class="hd" x="5933" y="145" width="278" height="27"/><text class="t" x="6072" y="163">OIDCClient</text>
<text class="b" y="182"><tspan x="5953">id</tspan><tspan x="6115">AutoField</tspan></text>
<text class="b" y="199"><tspan x="5953">oidc_provider</tspan><tspan x="6115">ForeignKey (id)</tspan></text>
<text y="217"><tspan x="5953">check_op_availability</tspan><tspan x="6115">BooleanField</tspan></text>
<text y="234"><tspan x="5953">enabled</tspan><tspan x="6115">BooleanField</tspan></text>
<text y="251"><tspan x="5953">identifier</tspan><tspan x="6115">SlugField</tspan></text>
<text class="g" y="268"><tspan x="5953">oidc_keycloak_idp_hint</tspan><tspan x="6115">CharField</tspan></text>
<text y="286"><tspan x="5953">oidc_rp_client_id</tspan><tspan x="6115">CharField</tspan></text>
<text y="303"><tspan x="5953">oidc_rp_client_secret</tspan><tspan x="6115">CharField</tspan></text>
<text class="g" y="320"><tspan x="5953">oidc_rp_idp_sign_key</tspan><tspan x="6115">CharField</tspan></text>
<text class="g" y="338"><tspan x="5953">oidc_rp_scopes_list</tspan><tspan x="6115">ArrayField</tspan></text>
<text y="355"><tspan x="5953">oidc_rp_sign_algo</tspan><tspan x="6115">CharField</tspan></text>
<text y="372"><tspan x="5953">options</tspan><tspan x="6115">JSONField</tspan></text>
<text y="390"><tspan x="5953">userinfo_claims_source</tspan><tspan x="6115">CharField</tspan></text></g>

<g id="OIDCProvider"><rect class="box" x="5931" y="623" width="338" height="238"/><rect class="hd" x="5933" y="625" width="334" height="27"/><text class="t" x="6100" y="643">OIDCProvider</text>
<text class="b" y="662"><tspan x="5953">id</tspan><tspan x="6149">AutoField</tspan></text>
<text y="679"><tspan x="5953">identifier</tspan><tspan x="6149">SlugField</tspan></text>
<text class="g" y="696"><tspan x="5953">oidc_nonce_size</tspan><tspan x="6149">PositiveIntegerField</tspan></text>
<text y="714"><tspan x="5953">oidc_op_authorization_endpoint</tspan><tspan x="6149">URLField</tspan></text>
<text class="g" y="731"><tspan x="5953">oidc_op_discovery_endpoint</tspan><tspan x="6149">URLField</tspan></text>
<text class="g" y="748"><tspan x="5953">oidc_op_jwks_endpoint</tspan><tspan x="6149">URLField</tspan></text>
<text class="g" y="766"><tspan x="5953">oidc_op_logout_endpoint</tspan><tspan x="6149">URLField</tspan></text>
<text y="783"><tspan x="5953">oidc_op_token_endpoint</tspan><tspan x="6149">URLField</tspan></text>
<text y="800"><tspan x="5953">oidc_op_user_endpoint</tspan><tspan x="6149">URLField</tspan></text>
<text class="g" y="818"><tspan x="5953">oidc_state_size</tspan><tspan x="6149">PositiveIntegerField</tspan></text>
<text class="g" y="835"><tspan x="5953">oidc_token_use_basic_auth</tspan><tspan x="6149">BooleanField</tspan></text>
<text class="g" y="852"><tspan x="5953">oidc_use_nonce</tspan><tspan x="6149">BooleanField</tspan></text></g>

<g id="OpenIDConnectConfig"><rect class="box" x="6259" y="247" width="205" height="48"/><rect class="hd" x="6261" y="249" width="201" height="27"/><text class="t" x="6361" y="267">OpenIDConnectConfig</text>
<text class="b" y="288"><tspan x="6284">id</tspan><tspan x="6364">AutoField</tspan></text></g>

<g id="Version"><rect class="box" x="6519" y="213" width="232" height="117"/><rect class="hd" x="6521" y="215" width="228" height="26"/><text class="t" x="6635" y="233">Version</text>
<text class="b" y="251"><tspan x="6541">id</tspan><tspan x="6659">BigAutoField</tspan></text>
<text y="268"><tspan x="6541">git_sha</tspan><tspan x="6659">CharField</tspan></text>
<text y="286"><tspan x="6541">machine_name</tspan><tspan x="6659">CharField</tspan></text>
<text class="g" y="303"><tspan x="6541">timestamp</tspan><tspan x="6659">DateTimeField</tspan></text>
<text y="320"><tspan x="6541">version</tspan><tspan x="6659">CharField</tspan></text></g>

<g id="Application"><rect class="box" x="6806" y="187" width="234" height="168"/><rect class="hd" x="6808" y="189" width="230" height="27"/><text class="t" x="6923" y="207">Application</text>
<text class="b" y="226"><tspan x="6828">id</tspan><tspan x="6947">BigAutoField</tspan></text>
<text class="g" y="243"><tspan x="6828">contact_person</tspan><tspan x="6947">CharField</tspan></text>
<text class="g" y="261"><tspan x="6828">created</tspan><tspan x="6947">DateTimeField</tspan></text>
<text class="g" y="278"><tspan x="6828">email</tspan><tspan x="6947">EmailField</tspan></text>
<text class="g" y="295"><tspan x="6828">last_modified</tspan><tspan x="6947">DateTimeField</tspan></text>
<text class="g" y="313"><tspan x="6828">permissions</tspan><tspan x="6947">ArrayField</tspan></text>
<text class="g" y="330"><tspan x="6828">phone_number</tspan><tspan x="6947">CharField</tspan></text>
<text y="347"><tspan x="6828">token</tspan><tspan x="6947">CharField</tspan></text></g>
</svg>
